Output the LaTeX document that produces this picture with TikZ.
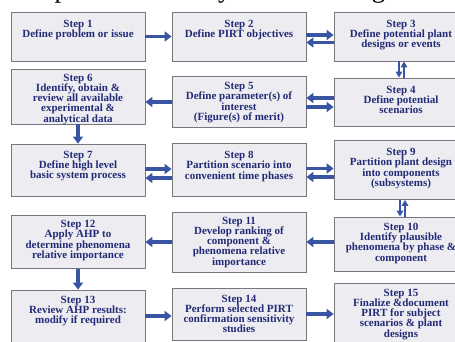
\documentclass[tikz,border=0pt]{standalone}
\usepackage{fontspec}
\newfontfamily\headfont{Liberation Serif}
\newfontfamily\stepfont{Liberation Serif}
\usepackage{tikz}
\usetikzlibrary{
    arrows.meta,
    positioning
}
\definecolor{boxfill}{HTML}{EDEDF1}
\definecolor{boxline}{HTML}{77777D}
\definecolor{stepblue}{HTML}{232A76}
\definecolor{flowblue}{HTML}{3A54A4}

\begin{document}
\begin{tikzpicture}[x=1pt,y=-1pt,
    stepbox/.style={draw=boxline,fill=boxfill,line width=0.8pt,minimum width=134pt,inner sep=0pt},
    steptext/.style={text=stepblue,font=\stepfont\bfseries\fontsize{11}{10.3}\selectfont,align=center,inner sep=0pt},
    flow/.style={draw=flowblue,line width=3.2pt,-{Triangle[length=7pt,width=10pt]}},
    vflow/.style={draw=flowblue,line width=2.8pt,-{Triangle[length=6pt,width=6.5pt]}}]

\useasboundingbox (0,0) rectangle (455,342);
\clip (0,0) rectangle (455,342);

% Running text above the chart
\node[anchor=base west,inner sep=0pt,font=\headfont\fontsize{27}{27}\selectfont] (head) at (2,-2) {transportation and dynamic loadings even};

% Row 1
\node[stepbox,minimum height=49pt] (s1) at (78,36.5) {};
\node[steptext,below=8pt of s1.north] (t1) {Step 1\\Define problem or issue};
\node[stepbox,minimum height=49pt] (s2) at (239,36.5) {};
\node[steptext,below=8pt of s2.north] (t2) {Step 2\\Define PIRT objectives};
\node[stepbox,minimum height=49pt] (s3) at (401,36.5) {};
\node[steptext,below=8pt of s3.north] (t3) {Step 3\\Define potential plant\\designs or events};

% Row 2
\node[stepbox,minimum height=55pt] (s6) at (78,96.5) {};
\node[steptext,below=5pt of s6.north] (t6) {Step 6\\Identify, obtain \&\\review all available\\experimental \&\\analytical data};
\node[stepbox,minimum height=51pt] (s5) at (239,102) {};
\node[steptext,below=6pt of s5.north] (t5) {Step 5\\Define parameter(s) of\\interest\\(Figure(s) of merit)};
\node[stepbox,minimum height=48pt] (s4) at (401,102) {};
\node[steptext,below=8pt of s4.north] (t4) {Step 4\\Define potential\\scenarios};

% Row 3
\node[stepbox,minimum height=52pt] (s7) at (78,170) {};
\node[steptext,below=7pt of s7.north] (t7) {Step 7\\Define high level\\basic system process};
\node[stepbox,minimum height=53pt] (s8) at (239,170) {};
\node[steptext,below=8pt of s8.north] (t8) {Step 8\\Partition scenario into\\convenient time phases};
\node[stepbox,minimum height=59pt] (s9) at (401,170) {};
\node[steptext,below=8pt of s9.north] (t9) {Step 9\\Partition plant design\\into components\\(subsystems)};

% Row 4
\node[stepbox,minimum height=53pt] (s12) at (78,242) {};
\node[steptext,below=5pt of s12.north] (t12) {Step 12\\Apply AHP to\\determine phenomena\\relative importance};
\node[stepbox,minimum height=60pt] (s11) at (239,242) {};
\node[steptext,below=5pt of s11.north] (t11) {Step 11\\Develop ranking of\\component \&\\phenomena relative\\importance};
\node[stepbox,minimum height=54pt] (s10) at (401,244) {};
\node[steptext,below=6pt of s10.north] (t10) {Step 10\\Identify plausible\\phenomena by phase \&\\component};

% Row 5
\node[stepbox,minimum height=52pt] (s13) at (78,316) {};
\node[steptext,below=6pt of s13.north] (t13) {Step 13\\Review AHP results:\\modify if required};
\node[stepbox,minimum height=52pt] (s14) at (239,314) {};
\node[steptext,below=7pt of s14.north] (t14) {Step 14\\Perform selected PIRT\\confirmation sensitivity\\studies};
\node[stepbox,minimum height=62pt] (s15) at (401,314) {};
\node[steptext,below=6pt of s15.north] (t15) {Step 15\\Finalize \&document\\PIRT for subject\\scenarios \& plant\\designs};

% Arrows
\draw[flow] (s1.east) -- (s2.west);
\draw[flow] ([yshift=1.5pt]s2.east) -- ([yshift=1.5pt]s3.west);
\draw[flow] ([yshift=-6pt]s3.west) -- ([yshift=-6pt]s2.east);
\draw[vflow] ([xshift=-2pt]s3.south) -- ([xshift=-2pt]s4.north);
\draw[vflow] ([xshift=3pt]s4.north) -- ([xshift=3pt]s3.south);
\draw[flow] ([yshift=4pt]s4.west) -- ([yshift=4pt]s5.east);
\draw[flow] ([yshift=-5pt]s5.east) -- ([yshift=-5pt]s4.west);
\draw[flow] (s5.west) -- (s6.east |- s5.west);
\draw[flow] (s6.south) -- (s7.north);
\draw[flow] ([yshift=1pt]s7.east) -- ([yshift=1pt]s8.west);
\draw[flow] ([yshift=-8pt]s8.west) -- ([yshift=-8pt]s7.east);
\draw[flow] ([yshift=1.5pt]s8.east) -- ([yshift=1.5pt]s9.west);
\draw[flow] ([yshift=-7pt]s9.west) -- ([yshift=-7pt]s8.east);
\draw[vflow] ([xshift=-1pt]s9.south) -- ([xshift=-1pt]s10.north);
\draw[vflow] ([xshift=4pt]s10.north) -- ([xshift=4pt]s9.south);
\draw[flow] (s10.west |- s11.east) -- (s11.east);
\draw[flow] (s11.west) -- (s12.east |- s11.west);
\draw[flow] (s12.south) -- (s13.north);
\draw[flow] (s13.east) -- (s14.west |- s13.east);
\draw[flow] (s14.east) -- (s15.west);

\end{tikzpicture}
\end{document}
